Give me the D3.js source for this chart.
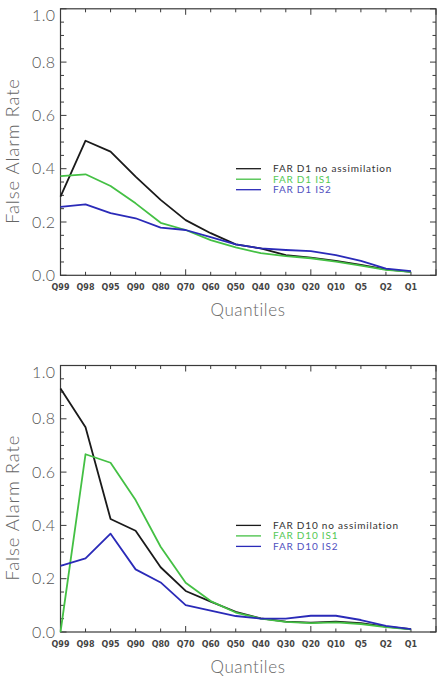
<!DOCTYPE html>
<html>
<head>
<meta charset="utf-8">
<script src="https://cdn.jsdelivr.net/npm/d3@7"></script>
<style>
  body { margin: 0; background: #fff; }
  svg { display: block; }
</style>
</head>
<body>
<svg width="443" height="683"></svg>
<script>
const quantiles = ["Q99", "Q98", "Q95", "Q90", "Q80", "Q70", "Q60", "Q50", "Q40", "Q30", "Q20", "Q10", "Q5", "Q2", "Q1"];

// D1 panel
const d1_noassim = [0.295, 0.505, 0.464, 0.37, 0.283, 0.207, 0.158, 0.116, 0.101, 0.076, 0.066, 0.054, 0.039, 0.022, 0.013];
const d1_is1 = [0.372, 0.379, 0.335, 0.27, 0.197, 0.17, 0.132, 0.105, 0.083, 0.072, 0.064, 0.051, 0.036, 0.02, 0.013];
const d1_is2 = [0.257, 0.266, 0.233, 0.214, 0.179, 0.17, 0.143, 0.116, 0.101, 0.095, 0.091, 0.076, 0.054, 0.025, 0.016];

// D10 panel
const d10_noassim = [0.914, 0.768, 0.424, 0.38, 0.243, 0.154, 0.114, 0.076, 0.051, 0.039, 0.035, 0.039, 0.033, 0.02, 0.011];
const d10_is1 = [0.0, 0.667, 0.635, 0.495, 0.32, 0.185, 0.116, 0.073, 0.05, 0.038, 0.033, 0.036, 0.03, 0.018, 0.01];
const d10_is2 = [0.248, 0.276, 0.369, 0.235, 0.186, 0.101, 0.08, 0.06, 0.05, 0.05, 0.061, 0.061, 0.045, 0.023, 0.011];

const d1_labels = ["FAR D1 no assimilation", "FAR D1 IS1", "FAR D1 IS2"];
const d10_labels = ["FAR D10 no assimilation", "FAR D10 IS1", "FAR D10 IS2"];

const line_colors = ["#1a1a1a", "#44c044", "#2a2ab8"];
const text_colors = ["#333333", "#55c855", "#5050c0"];
const frame_color = "#3a3a3a";

const svg = d3.select("svg");

const left = 60.5, right = 436;
const x = d3.scaleLinear([0, 15], [left, right]);

const draw_panel = (top, bottom, series, labels) => {
  const y = d3.scaleLinear([0, 1], [bottom, top]);
  const g = svg.append("g");

  // frame
  g.append("rect")
    .attr("x", left).attr("y", top)
    .attr("width", right - left).attr("height", bottom - top)
    .attr("fill", "none").attr("stroke", frame_color).attr("stroke-width", 1.2);

  // x ticks, inward, top and bottom
  const xt = d3.range(0, 16);
  [bottom, top].forEach((yy, k) => {
    const dir = k === 0 ? -1 : 1;
    g.append("g").selectAll("line")
      .data(xt)
      .join("line")
        .attr("x1", d => x(d)).attr("x2", d => x(d))
        .attr("y1", yy).attr("y2", d => yy + dir * (d % 5 === 0 ? 6 : 3.5))
        .attr("stroke", frame_color).attr("stroke-width", 1);
  });

  // y ticks, inward, left and right
  const yt = d3.range(0, 21).map(i => i * 0.05);
  [left, right].forEach((xx, k) => {
    const dir = k === 0 ? 1 : -1;
    g.append("g").selectAll("line")
      .data(yt)
      .join("line")
        .attr("y1", d => y(d)).attr("y2", d => y(d))
        .attr("x1", xx).attr("x2", (d, i) => xx + dir * (i % 4 === 0 ? 6 : 3.5))
        .attr("stroke", frame_color).attr("stroke-width", 1);
  });

  // y tick labels
  g.append("g").selectAll("text")
    .data([0, 0.2, 0.4, 0.6, 0.8, 1.0])
    .join("text")
      .attr("x", left - 5)
      .attr("y", d => y(d) + (d === 1 ? 7 : 0))
      .attr("dy", "0.35em")
      .attr("text-anchor", "end")
      .attr("font-family", "Lato")
      .attr("font-weight", 300)
      .attr("font-size", 16)
      .attr("letter-spacing", 0.4)
      .attr("fill", "#555")
      .text(d => d.toFixed(1));

  // x tick labels
  g.append("g").selectAll("text")
    .data(quantiles)
    .join("text")
      .attr("x", (d, i) => x(i))
      .attr("y", bottom + 12)
      .attr("dy", "0.35em")
      .attr("text-anchor", "middle")
      .attr("font-family", "DejaVu Sans")
      .attr("font-weight", "bold")
      .attr("font-size", 8)
      .attr("fill", "#444")
      .text(d => d);

  // axis titles
  g.append("text")
    .attr("x", 248).attr("y", bottom + 35)
    .attr("dy", "0.35em")
    .attr("text-anchor", "middle")
    .attr("font-family", "Lato").attr("font-weight", 300)
    .attr("font-size", 17).attr("letter-spacing", 0.6)
    .attr("fill", "#666")
    .text("Quantiles");

  g.append("text")
    .attr("transform", `translate(13,${(top + bottom) / 2 + 9}) rotate(-90)`)
    .attr("dy", "0.35em")
    .attr("text-anchor", "middle")
    .attr("font-family", "Lato").attr("font-weight", 300)
    .attr("font-size", 18.5).attr("letter-spacing", 0.9)
    .attr("fill", "#666")
    .text("False Alarm Rate");

  // series
  const line = d3.line()
    .x((d, i) => x(i))
    .y(d => y(d));
  g.append("g").selectAll("path")
    .data(series)
    .join("path")
      .attr("fill", "none")
      .attr("stroke", (d, i) => line_colors[i])
      .attr("stroke-width", 1.8)
      .attr("stroke-linejoin", "round")
      .attr("d", d => line(d));

  // legend
  const leg_y = y(0.4);
  const leg = g.append("g").selectAll("g")
    .data(labels)
    .join("g")
      .attr("transform", (d, i) => `translate(0,${leg_y + i * 10.5})`);
  leg.append("line")
    .attr("x1", 236).attr("x2", 261)
    .attr("stroke", (d, i) => line_colors[i])
    .attr("stroke-width", 1.3);
  leg.append("text")
    .attr("x", 273).attr("dy", "0.35em")
    .attr("font-family", "Lato")
    .attr("font-size", 10).attr("letter-spacing", 0.8)
    .attr("fill", (d, i) => text_colors[i])
    .text(d => d);
};

draw_panel(8.8, 275.3, [d1_noassim, d1_is1, d1_is2], d1_labels);
draw_panel(365.5, 632, [d10_noassim, d10_is1, d10_is2], d10_labels);
</script>
</body>
</html>
